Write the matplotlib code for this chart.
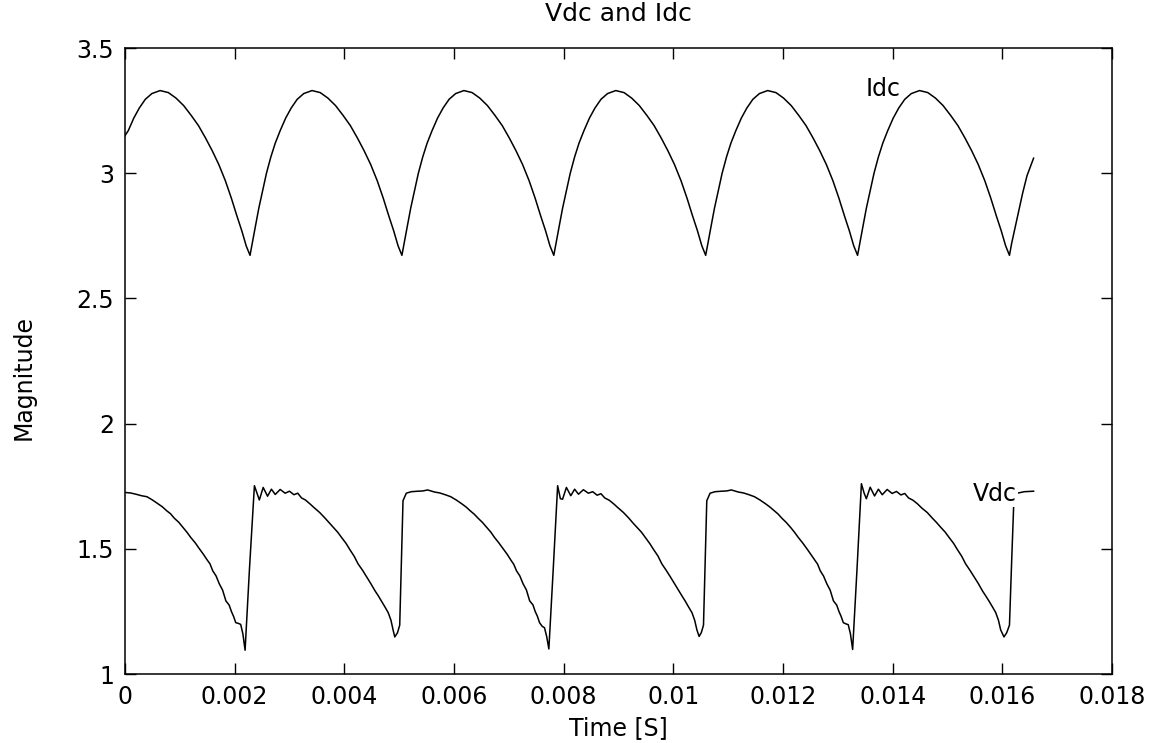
import matplotlib
matplotlib.use("Agg")
import matplotlib.pyplot as plt

# ---------------- data ----------------
# Idc: time in milliseconds, value
idc_t_ms = [0.00, 0.06, 0.16, 0.26, 0.37, 0.49, 0.64, 0.79, 0.93, 1.07, 1.21, 1.34,
            1.47, 1.59, 1.71, 1.83, 1.94, 2.04, 2.13, 2.21,
            2.28, 2.32, 2.38, 2.44, 2.50, 2.58, 2.66, 2.74, 2.83, 2.93, 3.03, 3.14,
            3.26, 3.41, 3.56, 3.70, 3.84, 3.98, 4.11, 4.24, 4.36, 4.48, 4.60, 4.71,
            4.81, 4.90, 4.98,
            5.05, 5.09, 5.15, 5.21, 5.27, 5.35, 5.43, 5.51, 5.60, 5.70, 5.80, 5.91,
            6.03, 6.18, 6.33, 6.47, 6.61, 6.75, 6.88, 7.01, 7.13, 7.25, 7.37, 7.48,
            7.58, 7.67, 7.75,
            7.82, 7.86, 7.92, 7.98, 8.04, 8.12, 8.20, 8.28, 8.37, 8.47, 8.57, 8.68,
            8.80, 8.95, 9.10, 9.24, 9.38, 9.52, 9.65, 9.78, 9.90, 10.02, 10.14, 10.25,
            10.35, 10.44, 10.52,
            10.59, 10.63, 10.69, 10.75, 10.81, 10.89, 10.97, 11.05, 11.14, 11.24,
            11.34, 11.45, 11.57, 11.72, 11.87, 12.01, 12.15, 12.29, 12.42, 12.55,
            12.67, 12.79, 12.91, 13.02, 13.12, 13.21, 13.29,
            13.36, 13.40, 13.46, 13.52, 13.58, 13.66, 13.74, 13.82, 13.91, 14.01,
            14.11, 14.22, 14.34, 14.49, 14.64, 14.78, 14.92, 15.06, 15.19, 15.32,
            15.44, 15.56, 15.68, 15.79, 15.89, 15.98, 16.06,
            16.13, 16.17, 16.23, 16.29, 16.37, 16.45, 16.57]
idc_v = [3.15, 3.17, 3.22, 3.26, 3.295, 3.318, 3.330, 3.322, 3.30, 3.27, 3.23, 3.19,
         3.14, 3.09, 3.035, 2.97, 2.90, 2.83, 2.77, 2.71,
         2.672, 2.72, 2.79, 2.86, 2.92, 3.00, 3.065, 3.12, 3.17, 3.22, 3.26, 3.295,
         3.318, 3.330, 3.322, 3.30, 3.27, 3.23, 3.19, 3.14, 3.09, 3.035, 2.97, 2.90,
         2.83, 2.77, 2.71,
         2.672, 2.72, 2.79, 2.86, 2.92, 3.00, 3.065, 3.12, 3.17, 3.22, 3.26, 3.295,
         3.318, 3.330, 3.322, 3.30, 3.27, 3.23, 3.19, 3.14, 3.09, 3.035, 2.97, 2.90,
         2.83, 2.77, 2.71,
         2.672, 2.72, 2.79, 2.86, 2.92, 3.00, 3.065, 3.12, 3.17, 3.22, 3.26, 3.295,
         3.318, 3.330, 3.322, 3.30, 3.27, 3.23, 3.19, 3.14, 3.09, 3.035, 2.97, 2.90,
         2.83, 2.77, 2.71,
         2.672, 2.72, 2.79, 2.86, 2.92, 3.00, 3.065, 3.12, 3.17, 3.22, 3.26, 3.295,
         3.318, 3.330, 3.322, 3.30, 3.27, 3.23, 3.19, 3.14, 3.09, 3.035, 2.97, 2.90,
         2.83, 2.77, 2.71,
         2.672, 2.72, 2.79, 2.86, 2.92, 3.00, 3.065, 3.12, 3.17, 3.22, 3.26, 3.295,
         3.318, 3.330, 3.322, 3.30, 3.27, 3.23, 3.19, 3.14, 3.09, 3.035, 2.97, 2.90,
         2.83, 2.77, 2.71,
         2.672, 2.72, 2.78, 2.84, 2.92, 2.99, 3.06]

# Vdc: time in seconds, value
vdc_t = [0.00000, 0.00010, 0.00020, 0.00030, 0.00040, 0.00050, 0.00060, 0.00068,
         0.00076, 0.00083, 0.00090, 0.00098, 0.00106, 0.00113, 0.00120, 0.00128,
         0.00136, 0.00143, 0.00150, 0.00155, 0.00160, 0.00166, 0.00172, 0.00178,
         0.00184, 0.00190, 0.00194, 0.00198, 0.00202, 0.00207, 0.00211, 0.00215,
         0.00219, 0.00227, 0.00236, 0.00241, 0.00245, 0.00252, 0.00260, 0.00267,
         0.00274, 0.00283, 0.00292, 0.00300, 0.00308, 0.00315, 0.00322, 0.00329,
         0.00337, 0.00345, 0.00355, 0.00365, 0.00372, 0.00380, 0.00388, 0.00395,
         0.00403, 0.00410, 0.00418, 0.00425, 0.00433, 0.00440, 0.00448, 0.00456,
         0.00462, 0.00468, 0.00474, 0.00480, 0.00485, 0.00489, 0.00492, 0.00497,
         0.00501, 0.00504, 0.00507, 0.00513, 0.00522, 0.00534, 0.00543, 0.00552,
         0.00564, 0.00574, 0.00584, 0.00594, 0.00604, 0.00614, 0.00622, 0.00630,
         0.00637, 0.00644, 0.00652, 0.00660, 0.00667, 0.00674, 0.00682, 0.00690,
         0.00697, 0.00704, 0.00709, 0.00714, 0.00720, 0.00726, 0.00732, 0.00738,
         0.00744, 0.00748, 0.00752, 0.00756, 0.00761, 0.00765, 0.00769, 0.00773,
         0.00781, 0.00789, 0.00794, 0.00798, 0.00805, 0.00813, 0.00820, 0.00827,
         0.00836, 0.00845, 0.00853, 0.00861, 0.00868, 0.00875, 0.00883, 0.00891,
         0.00899, 0.00909, 0.00919, 0.00926, 0.00934, 0.00942, 0.00949, 0.00957,
         0.00964, 0.00972, 0.00979, 0.00987, 0.00994, 0.01002, 0.01010, 0.01016,
         0.01022, 0.01028, 0.01034, 0.01039, 0.01043, 0.01047, 0.01051, 0.01055,
         0.01058, 0.01061, 0.01067, 0.01076, 0.01088, 0.01097, 0.01106,
         0.01118, 0.01128, 0.01138, 0.01148, 0.01158, 0.01168, 0.01176, 0.01184,
         0.01191, 0.01198, 0.01206, 0.01214, 0.01221, 0.01228, 0.01236, 0.01244,
         0.01251, 0.01258, 0.01263, 0.01268, 0.01274, 0.01280, 0.01286, 0.01292,
         0.01298, 0.01302, 0.01306, 0.01310, 0.01315, 0.01319, 0.01323, 0.01327,
         0.01335, 0.01343, 0.01348, 0.01352, 0.01359, 0.01367, 0.01374, 0.01381,
         0.01390, 0.01399, 0.01407, 0.01415, 0.01422, 0.01429, 0.01437, 0.01445,
         0.01453, 0.01463, 0.01473, 0.01480, 0.01488, 0.01496, 0.01503, 0.01511,
         0.01518, 0.01526, 0.01533, 0.01541, 0.01548, 0.01556, 0.01564, 0.01570,
         0.01576, 0.01582, 0.01588, 0.01593, 0.01597, 0.01603, 0.01608, 0.01613,
         0.01617, 0.01621, 0.01627, 0.01640, 0.01657]
vdc_v = [1.725, 1.723, 1.718, 1.712, 1.708, 1.695, 1.680, 1.668,
         1.652, 1.640, 1.622, 1.606, 1.585, 1.566, 1.545, 1.524,
         1.499, 1.478, 1.455, 1.440, 1.412, 1.392, 1.360, 1.335,
         1.292, 1.275, 1.250, 1.230, 1.205, 1.202, 1.198, 1.160,
         1.095, 1.420, 1.752, 1.720, 1.695, 1.745, 1.710, 1.738,
         1.717, 1.737, 1.722, 1.730, 1.716, 1.722, 1.703, 1.695,
         1.680, 1.664, 1.645, 1.622, 1.605, 1.585, 1.566, 1.545,
         1.522, 1.497, 1.470, 1.440, 1.415, 1.390, 1.362, 1.332,
         1.312, 1.290, 1.268, 1.245, 1.215, 1.175, 1.148, 1.165,
         1.195, 1.450, 1.692, 1.722, 1.728, 1.730, 1.731, 1.735,
         1.727, 1.723, 1.716, 1.708, 1.695, 1.680, 1.667, 1.651,
         1.638, 1.622, 1.605, 1.585, 1.567, 1.545, 1.523, 1.499,
         1.478, 1.454, 1.438, 1.412, 1.392, 1.360, 1.336, 1.292,
         1.276, 1.250, 1.231, 1.205, 1.190, 1.185, 1.150, 1.100,
         1.420, 1.752, 1.700, 1.698, 1.745, 1.712, 1.738, 1.718,
         1.736, 1.722, 1.728, 1.714, 1.720, 1.703, 1.694, 1.680,
         1.664, 1.645, 1.622, 1.604, 1.585, 1.566, 1.545, 1.521,
         1.497, 1.471, 1.440, 1.414, 1.390, 1.361, 1.332, 1.311,
         1.290, 1.267, 1.245, 1.214, 1.176, 1.150, 1.165, 1.195,
         1.450, 1.692, 1.722, 1.728, 1.730, 1.731, 1.735,
         1.727, 1.723, 1.716, 1.708, 1.695, 1.680, 1.667, 1.652,
         1.639, 1.622, 1.605, 1.585, 1.566, 1.545, 1.523, 1.499,
         1.477, 1.455, 1.439, 1.412, 1.391, 1.360, 1.335, 1.292,
         1.275, 1.250, 1.230, 1.205, 1.200, 1.197, 1.160, 1.098,
         1.420, 1.760, 1.722, 1.700, 1.746, 1.711, 1.738, 1.716,
         1.737, 1.721, 1.729, 1.715, 1.721, 1.703, 1.694, 1.680,
         1.663, 1.645, 1.621, 1.605, 1.585, 1.566, 1.545, 1.522,
         1.497, 1.470, 1.440, 1.414, 1.390, 1.362, 1.331, 1.311,
         1.290, 1.268, 1.245, 1.214, 1.176, 1.148, 1.165, 1.195,
         1.450, 1.692, 1.722, 1.728, 1.730]

x_ticks = [0, 0.002, 0.004, 0.006, 0.008, 0.010, 0.012, 0.014, 0.016, 0.018]
x_tick_labels = ["0", "0.002", "0.004", "0.006", "0.008", "0.01", "0.012",
                 "0.014", "0.016", "0.018"]
y_ticks = [1, 1.5, 2, 2.5, 3, 3.5]
y_tick_labels = ["1", "1.5", "2", "2.5", "3", "3.5"]

title_text = "Vdc and Idc"
x_label = "Time [S]"
y_label = "Magnitude"

# ---------------- figure ----------------
plt.rcParams['font.family'] = ['DejaVu Sans']
W, H = 1153, 743
fig = plt.figure(figsize=(W / 100, H / 100), dpi=100)
ax = fig.add_axes([125 / W, 1 - 674 / H, (1112 - 125) / W, (674 - 48) / H])

idc_t = [v / 1000.0 for v in idc_t_ms]
ax.plot(idc_t, idc_v, color="black", lw=1.1)
ax.plot(vdc_t, vdc_v, color="black", lw=1.1)

ax.set_xlim(0, 0.018)
ax.set_ylim(1, 3.5)
ax.set_xticks(x_ticks)
ax.set_xticklabels(x_tick_labels)
ax.set_yticks(y_ticks)
ax.set_yticklabels(y_tick_labels)
ax.tick_params(direction="in", length=8, width=1, labelsize=17,
               top=True, right=True, pad=8, colors="black")
for s in ax.spines.values():
    s.set_linewidth(1.1)
    s.set_color("black")

ax.text(0.01350, 3.336, "Idc", fontsize=17, va="center", ha="left",
        bbox=dict(facecolor="white", edgecolor="none", pad=0.5))
ax.text(0.01547, 1.718, "Vdc", fontsize=17, va="center", ha="left",
        bbox=dict(facecolor="white", edgecolor="none", pad=0.5))

fig.text((125 + 1112) / 2 / W, 1 - 14 / H, title_text, fontsize=18,
         ha="center", va="center")
fig.text((125 + 1112) / 2 / W, 1 - 728 / H, x_label, fontsize=17,
         ha="center", va="center")
fig.text(24 / W, 1 - 378 / H, y_label, fontsize=17, rotation=90,
         ha="center", va="center")

fig.savefig("out.png", dpi=100)
